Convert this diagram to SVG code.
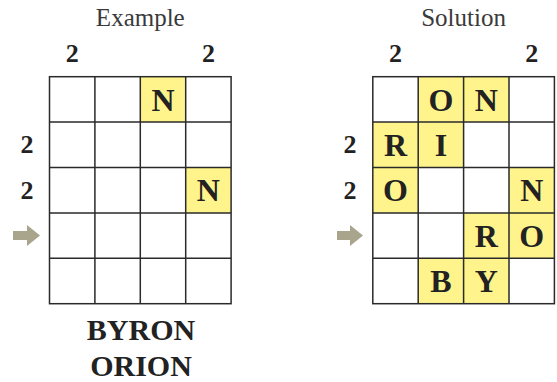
<svg xmlns="http://www.w3.org/2000/svg" width="557" height="382" viewBox="0 0 557 382" font-family="'Liberation Serif', 'Times New Roman', serif">
<style>
text{font-family:"Liberation Serif","Times New Roman",serif;text-anchor:middle}
.title{font-size:25px;fill:#3a3a3a}
.num{font-size:26px;font-weight:bold;fill:#222}
.let{font-size:32px;font-weight:bold;fill:#222}
.word{font-size:30px;font-weight:bold;fill:#222}
.y{fill:#fff48c}
.grid{stroke:#2a2a2a;stroke-width:1.5;fill:none}
.arrow{fill:#a8a58c}
</style>
<rect width="557" height="382" fill="#fff"/>
<g id="example">
  <text class="title" x="140.3" y="26">Example</text>
  <text class="num" x="72.2" y="62">2</text>
  <text class="num" x="208.4" y="62">2</text>
  <text class="num" x="27" y="153">2</text>
  <text class="num" x="27" y="198.5">2</text>
  <polygon class="arrow" points="13,231 27,231 27,225 40,235.5 27,246 27,240 13,240"/>
  <rect class="y" x="140.3" y="76.7" width="45.4" height="45.4"/>
  <rect class="y" x="185.7" y="167.5" width="45.4" height="45.4"/>
  <g class="grid">
    <rect x="49.5" y="76.7" width="181.6" height="227"/>
    <path d="M94.9 76.7V303.7M140.3 76.7V303.7M185.7 76.7V303.7M49.5 122.1H231.1M49.5 167.5H231.1M49.5 212.9H231.1M49.5 258.3H231.1"/>
  </g>
  <text class="let" x="163" y="110.6">N</text>
  <text class="let" x="208.4" y="201.4">N</text>
  <text class="word" x="141" y="340">BYRON</text>
  <text class="word" x="141" y="376">ORION</text>
</g>
<g id="solution">
  <text class="title" x="463.6" y="26">Solution</text>
  <text class="num" x="395.5" y="62">2</text>
  <text class="num" x="531.7" y="62">2</text>
  <text class="num" x="350" y="153">2</text>
  <text class="num" x="350" y="198.5">2</text>
  <polygon class="arrow" points="337,231 350,231 350,225 363,235.5 350,246 350,240 337,240"/>
  <rect class="y" x="418.2" y="76.7" width="90.8" height="45.4"/>
  <rect class="y" x="372.8" y="122.1" width="90.8" height="45.4"/>
  <rect class="y" x="372.8" y="167.5" width="45.4" height="45.4"/>
  <rect class="y" x="509" y="167.5" width="45.4" height="90.8"/>
  <rect class="y" x="463.6" y="212.9" width="45.4" height="45.4"/>
  <rect class="y" x="418.2" y="258.3" width="90.8" height="45.4"/>
  <g class="grid">
    <rect x="372.8" y="76.7" width="181.6" height="227"/>
    <path d="M418.2 76.7V303.7M463.6 76.7V303.7M509 76.7V303.7M372.8 122.1H554.4M372.8 167.5H554.4M372.8 212.9H554.4M372.8 258.3H554.4"/>
  </g>
  <text class="let" x="440.9" y="110.6">O</text>
  <text class="let" x="486.3" y="110.6">N</text>
  <text class="let" x="395.5" y="156">R</text>
  <text class="let" x="440.9" y="156">I</text>
  <text class="let" x="395.5" y="201.4">O</text>
  <text class="let" x="531.7" y="201.4">N</text>
  <text class="let" x="486.3" y="246.8">R</text>
  <text class="let" x="531.7" y="246.8">O</text>
  <text class="let" x="440.9" y="292.2">B</text>
  <text class="let" x="486.3" y="292.2">Y</text>
</g>
</svg>
